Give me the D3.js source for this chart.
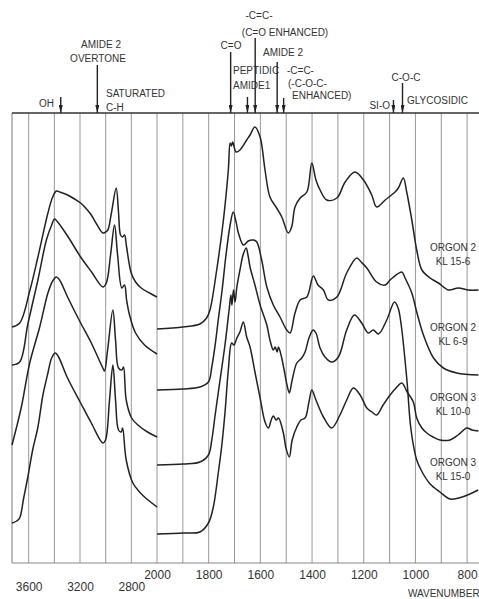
<!DOCTYPE html>
<html>
<head>
<meta charset="utf-8">
<script src="https://cdnjs.cloudflare.com/ajax/libs/d3/7.8.5/d3.min.js"></script>
<style>
  body { margin: 0; background: #fff; }
  svg text { font-family: 'Liberation Sans', Arial, sans-serif; fill: #333; }
</style>
</head>
<body>
<div id="viz"></div>
<script>
// spectra: [wavenumber cm-1, relative absorbance (offset traces)]
const orgon2kl156High = [[3730,23.6],[3670,24.0],[3590,27.3],[3528,30.6],[3450,35.0],[3413,36.6],[3384,37.2],[3359,37.1],[3297,36.8],[3242,36.4],[3195,36.0],[3156,35.5],[3112,34.8],[3071,33.9],[3022,33.0],[3001,33.1],[2983,33.3],[2954,35.1],[2918,37.5],[2900,35.1],[2884,32.8],[2868,32.6],[2853,32.8],[2837,31.6],[2801,29.0],[2767,28.1],[2723,27.5],[2658,27.0],[2600,26.6]];
const orgon2kl69High = [[3730,19.8],[3670,20.1],[3605,24.0],[3528,28.3],[3462,32.3],[3421,33.8],[3398,34.4],[3374,34.1],[3297,32.7],[3195,30.6],[3110,29.1],[3022,27.6],[2995,28.0],[2962,30.8],[2931,33.8],[2907,30.8],[2874,27.5],[2853,27.8],[2837,26.3],[2814,24.8],[2767,23.0],[2697,21.8],[2600,20.9]];
const orgon3kl100High = [[3730,11.8],[3657,15.6],[3592,20.0],[3514,23.6],[3450,27.0],[3413,28.2],[3384,28.6],[3359,28.3],[3297,26.6],[3195,24.0],[3112,22.0],[3022,19.5],[3009,19.2],[2985,21.3],[2944,25.3],[2923,22.3],[2900,19.5],[2874,19.3],[2861,19.6],[2840,16.3],[2798,14.5],[2749,13.8],[2674,13.1],[2600,12.6]];
const orgon3kl150High = [[3730,4.0],[3693,4.2],[3670,4.5],[3639,6.5],[3605,8.7],[3569,11.3],[3528,13.6],[3489,16.8],[3450,19.0],[3421,20.5],[3392,21.0],[3367,20.6],[3297,18.5],[3195,16.0],[3112,14.0],[3022,12.0],[3001,12.3],[2970,16.3],[2944,19.8],[2923,16.3],[2900,13.3],[2879,13.1],[2868,13.5],[2840,10.3],[2788,8.0],[2736,7.1],[2697,6.6],[2600,5.6]];

const orgon2kl156Low = [[2000,23.4],[1899,23.6],[1834,23.9],[1808,24.5],[1795,25.3],[1769,29.3],[1743,34.3],[1724,39.3],[1717,42.0],[1712,41.7],[1707,42.1],[1694,41.1],[1679,41.3],[1653,42.3],[1640,42.8],[1621,43.6],[1601,42.6],[1582,39.3],[1563,36.6],[1537,35.5],[1517,34.6],[1492,33.0],[1479,33.6],[1466,35.6],[1446,36.5],[1420,37.1],[1401,40.0],[1385,38.3],[1369,37.3],[1343,36.3],[1304,36.5],[1272,38.1],[1234,39.1],[1201,38.3],[1169,36.8],[1150,35.6],[1117,36.3],[1079,37.1],[1066,37.5],[1047,38.5],[1033,37.0],[1014,34.3],[995,31.3],[975,29.3],[943,28.5],[911,28.0],[872,27.3],[834,27.5],[795,27.3],[756,27.3]];
const orgon2kl69Low = [[2000,17.3],[1899,17.4],[1834,17.6],[1801,18.1],[1788,19.6],[1775,21.8],[1763,24.3],[1748,27.3],[1733,30.8],[1717,33.8],[1705,35.1],[1694,34.1],[1685,33.0],[1666,31.8],[1655,32.0],[1647,32.2],[1627,32.3],[1614,32.1],[1595,30.3],[1575,27.6],[1550,25.8],[1524,24.6],[1498,23.3],[1485,23.0],[1466,25.0],[1446,26.3],[1420,26.6],[1395,28.7],[1377,27.8],[1356,27.3],[1337,26.3],[1304,26.6],[1266,29.0],[1227,30.5],[1210,30.1],[1188,29.5],[1150,28.1],[1117,27.8],[1098,28.3],[1053,29.1],[1040,28.5],[1014,27.0],[995,25.1],[969,22.8],[930,20.5],[892,19.5],[840,19.0],[756,18.8]];
const orgon3kl100Low = [[2000,9.8],[1898,9.9],[1834,10.1],[1801,10.8],[1788,12.3],[1775,14.8],[1756,18.3],[1737,21.8],[1721,25.3],[1714,26.8],[1710,25.8],[1704,27.3],[1698,26.1],[1691,27.6],[1679,29.3],[1667,30.8],[1655,31.5],[1648,30.8],[1640,29.6],[1621,27.8],[1601,25.8],[1575,23.8],[1563,22.3],[1550,21.3],[1543,21.6],[1535,21.1],[1530,21.6],[1520,20.8],[1508,19.3],[1497,17.8],[1488,17.0],[1477,18.3],[1459,20.0],[1440,20.5],[1427,21.1],[1412,22.5],[1396,23.3],[1385,23.0],[1369,21.5],[1350,20.6],[1324,20.1],[1298,20.6],[1266,23.3],[1236,24.8],[1208,24.0],[1182,23.0],[1163,23.3],[1143,22.9],[1111,24.3],[1081,26.1],[1067,25.5],[1055,23.8],[1033,18.3],[1017,13.3],[995,10.3],[974,9.1],[943,7.9],[905,7.1],[866,6.4],[819,6.6],[757,7.3]];
const orgon3kl150Low = [[2000,2.9],[1898,3.0],[1834,3.1],[1801,4.0],[1782,5.6],[1763,9.0],[1750,11.6],[1737,15.0],[1724,19.3],[1711,22.0],[1702,21.8],[1691,22.5],[1679,23.1],[1666,24.1],[1653,22.6],[1640,21.6],[1621,19.1],[1601,16.5],[1582,14.1],[1569,13.5],[1558,14.3],[1550,14.7],[1539,14.3],[1530,14.5],[1511,13.0],[1501,11.5],[1488,10.6],[1477,12.3],[1459,13.6],[1443,14.3],[1427,14.5],[1412,16.1],[1401,17.3],[1385,16.3],[1356,14.6],[1324,13.5],[1292,14.8],[1266,16.3],[1240,17.5],[1214,16.8],[1188,15.5],[1168,15.1],[1150,14.8],[1125,15.8],[1098,16.8],[1075,17.5],[1053,18.0],[1032,17.1],[1008,16.1],[995,14.5],[975,13.5],[956,13.0],[932,12.6],[905,12.3],[866,12.3],[835,12.8],[801,13.5],[781,13.3],[756,13.2]];

const sampleNames = [['ORGON 2', 'KL 15-6'], ['ORGON 2', 'KL 6-9'], ['ORGON 3', 'KL 10-0'], ['ORGON 3', 'KL 15-0']];

const highGrid = [3600, 3400, 3200, 3000, 2800];
const lowGrid = [2000, 1900, 1800, 1700, 1600, 1500, 1400, 1300, 1200, 1100, 1000, 900, 800];
const highTicks = [3600, 3200, 2800];
const lowTicks = [2000, 1800, 1600, 1400, 1200, 1000, 800];

// band assignments marked above the plot
const bandWaves = [3350, 3065, 1715, 1650, 1620, 1535, 1510, 1085, 1050];
const bandLabels = [['OH'], ['AMIDE 2', 'OVERTONE'], ['C=O'], ['PEPTIDIC', 'AMIDE1'], ['-C=C-', '(C=O ENHANCED)'], ['AMIDE 2'], ['-C=C-', '(-C-O-C-', 'ENHANCED)'], ['SI-O'], ['C-O-C', 'GLYCOSIDIC']];

const w = 479;
const h = 599;
const plotTop = 113;
const plotBottom = 563;

const svg = d3.select('#viz').
append('svg').
attr('width', w).
attr('height', h);

const highWave = d3.scaleLinear().domain([3730, 2600]).range([12, 157]);
const lowWave = d3.scaleLinear().domain([2000, 754]).range([157, 479]);
const absorb = d3.scaleLinear().domain([0, 45]).range([plotBottom, plotTop]);

svg.append('defs').
append('marker').
attr('id', 'head').
attr('viewBox', '0 0 10 5').
attr('refX', 10).
attr('refY', 2.5).
attr('markerUnits', 'userSpaceOnUse').
attr('markerWidth', 8).
attr('markerHeight', 4).
attr('orient', 'auto').
append('path').
attr('d', 'M0,0L10,2.5L0,5z').
attr('fill', '#222');

// grid
svg.selectAll('.hgrid').
data(highGrid).
enter().
append('line').
attr('class', 'hgrid').
attr('x1', d => highWave(d)).
attr('x2', d => highWave(d)).
attr('y1', plotTop).
attr('y2', plotBottom).
attr('stroke', '#999').
attr('stroke-width', 1);

svg.selectAll('.lgrid').
data(lowGrid).
enter().
append('line').
attr('class', 'lgrid').
attr('x1', d => lowWave(d)).
attr('x2', d => lowWave(d)).
attr('y1', plotTop).
attr('y2', plotBottom).
attr('stroke', '#999').
attr('stroke-width', 1);

svg.append('line').
attr('x1', highWave(3730)).attr('x2', highWave(3730)).
attr('y1', plotTop).attr('y2', plotBottom).
attr('stroke', '#777');

svg.append('line').
attr('x1', highWave(3730)).attr('x2', w).
attr('y1', plotBottom).attr('y2', plotBottom).
attr('stroke', '#888');

svg.append('line').
attr('x1', highWave(3730)).attr('x2', w).
attr('y1', plotTop).attr('y2', plotTop).
attr('stroke', '#333').
attr('stroke-width', 1.3);

// spectra
const highLine = d3.line().
x(d => highWave(d[0])).
y(d => absorb(d[1])).
curve(d3.curveCatmullRom.alpha(0.5));

const lowLine = d3.line().
x(d => lowWave(d[0])).
y(d => absorb(d[1])).
curve(d3.curveCatmullRom.alpha(0.5));

const highSets = [orgon2kl156High, orgon2kl69High, orgon3kl100High, orgon3kl150High];
const lowSets = [orgon2kl156Low, orgon2kl69Low, orgon3kl100Low, orgon3kl150Low];

svg.selectAll('.high').
data(highSets).
enter().
append('path').
attr('class', 'high').
attr('d', highLine).
attr('fill', 'none').
attr('stroke', '#222').
attr('stroke-width', 1.5);

svg.selectAll('.low').
data(lowSets).
enter().
append('path').
attr('class', 'low').
attr('d', lowLine).
attr('fill', 'none').
attr('stroke', '#222').
attr('stroke-width', 1.5);

// sample names at the right
const nameTop = [251, 331, 401, 466];
sampleNames.forEach((pair, i) => {
  pair.forEach((t, j) => {
    svg.append('text').
    attr('x', 453).
    attr('y', nameTop[i] + j * 14).
    attr('text-anchor', 'middle').
    attr('font-size', 10).
    text(t);
  });
});

// band arrows and their notes
const bandLayout = [
{ from: 97, lines: [[54, 107, 'end']] },
{ from: 65, lines: [[101, 48, 'middle'], [98, 62, 'middle']] },
{ from: 52, lines: [[231, 49, 'middle']] },
{ from: 97, lines: [[233, 74, 'start'], [233, 89, 'start']] },
{ from: 38, lines: [[259, 19, 'middle'], [285, 36, 'middle']] },
{ from: 62, lines: [[283, 56, 'middle']] },
{ from: 98, lines: [[287, 74, 'start'], [288, 87, 'start'], [292, 99, 'start']] },
{ from: 100, lines: [[390, 109, 'end']] },
{ from: 83, lines: [[406, 81, 'middle'], [407, 104, 'start']] }];


bandWaves.forEach((wave, i) => {
  const x = wave > 2000 ? highWave(wave) : lowWave(wave);
  svg.append('line').
  attr('x1', x).attr('x2', x).
  attr('y1', bandLayout[i].from).
  attr('y2', plotTop).
  attr('stroke', '#222').
  attr('stroke-width', 1.4).
  attr('marker-end', 'url(#head)');
  bandLabels[i].forEach((t, j) => {
    const p = bandLayout[i].lines[j];
    svg.append('text').
    attr('x', p[0]).
    attr('y', p[1]).
    attr('text-anchor', p[2]).
    attr('font-size', 10).
    text(t);
  });
});

svg.append('text').attr('x', 106).attr('y', 97).attr('font-size', 10).text('SATURATED');
svg.append('text').attr('x', 106).attr('y', 111).attr('font-size', 10).text('C-H');

// wavenumber labels
const highAxis = svg.append('g').
attr('transform', 'translate(0,' + plotBottom + ')').
call(d3.axisBottom(highWave).tickValues(highTicks).tickSize(0).tickPadding(19).tickFormat(d3.format('d')));
highAxis.select('.domain').remove();

const lowAxis = svg.append('g').
attr('transform', 'translate(0,' + plotBottom + ')').
call(d3.axisBottom(lowWave).tickValues(lowTicks).tickSize(0).tickPadding(7).tickFormat(d3.format('d')));
lowAxis.select('.domain').remove();

svg.selectAll('.tick text').
attr('font-size', 12).
attr('font-family', null).
attr('fill', '#333');

svg.append('text').
attr('x', 408).
attr('y', 597).
attr('font-size', 10).
text('WAVENUMBER');
</script>
</body>
</html>
